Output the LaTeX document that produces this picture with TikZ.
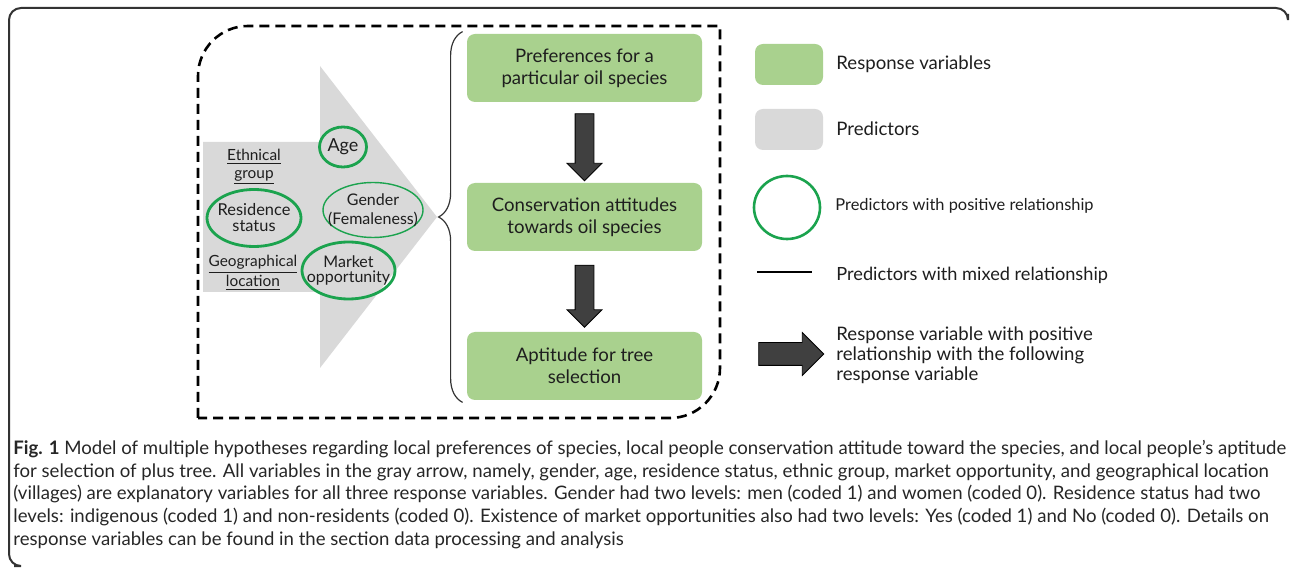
\documentclass[tikz,border=0pt]{standalone}
\usepackage{fontspec}
\setmainfont{Lato}
\usetikzlibrary{shapes.geometric,shapes.arrows,decorations.pathreplacing,calc,positioning}

\definecolor{respgreen}{HTML}{A9D18E}
\definecolor{predgray}{HTML}{D9D9D9}
\definecolor{posgreen}{HTML}{1BA34E}
\definecolor{darkfill}{HTML}{404040}
\definecolor{inkgray}{HTML}{1E1E1E}

\begin{document}
\begin{tikzpicture}[x=0.5pt,y=-0.5pt,node distance=74.5pt,text=inkgray,
  font=\fontsize{9.3}{11}\selectfont,
  resp node/.style={rectangle,rounded corners=4pt,fill=respgreen,minimum width=117.5pt,minimum height=34pt,align=center},
  pred node/.style={rectangle,rounded corners=4pt,fill=predgray},
  pos node/.style={ellipse,draw=posgreen,line width=1.4pt,inner sep=0pt},
  label node/.style={align=center,inner sep=0pt,font=\fontsize{7.7}{9}\selectfont},
  fat arrow/.style={single arrow,draw=black,fill=darkfill,line width=0.4pt,single arrow tip angle=90},
  key text/.style={anchor=west,inner sep=0pt,align=left}]
  \useasboundingbox (0,0) rectangle (1290,571);

  % figure frame
  \draw[line width=1pt,black!80,rounded corners=6pt] (1288,14) -- (1288,8) -- (9,8) -- (9,566) -- (14,566);

  % dashed model box
  \draw[line width=1.3pt,dash pattern=on 5pt off 3pt]
    (198,418) -- (198,76) .. controls (198,48.4) and (220.4,26) .. (248,26)
    -- (720,26) -- (720,368) .. controls (720,395.6) and (697.6,418) .. (670,418) -- cycle;

  % predictors
  \fill[predgray] (203,142) -- (320,142) -- (320,66) -- (437,217) -- (320,368) -- (320,292) -- (203,292) -- cycle;
  \node[pos node,minimum width=23.5pt,minimum height=20pt] (age) at (343,147) {};
  \node[pos node,line width=0.7pt,minimum width=50pt,minimum height=27.5pt] (gender) at (373,210) {};
  \node[pos node,minimum width=47pt,minimum height=28.5pt] (resid) at (254,218) {};
  \node[pos node,minimum width=46.5pt,minimum height=28.5pt] (market) at (348.5,270.5) {};
  \node[label node,font=\fontsize{9}{10}\selectfont] at (age) {Age};
  \node[label node,font=\fontsize{8}{9.5}\selectfont] at (gender) {Gender\\(Femaleness)};
  \node[label node,font=\fontsize{8.2}{8}\selectfont] at (resid) {Residence\\status};
  \node[label node,font=\fontsize{8}{7.6}\selectfont] at (market) {Market\\opportunity};
  \node[label node] (ethnic) at (254,167) {\underline{Ethnical}\\\underline{group}};
  \node[label node] (geo) at (253,273) {\underline{Geographical}\\\underline{location}};

  % response variables
  \node[resp node] (pref) at (584.5,68) {Preferences for a\\particular oil species};
  \node[resp node] (cons) [below of=pref] {Conservation attitudes\\towards oil species};
  \node[resp node] (sel) [below of=cons] {Aptitude for tree\\selection};
  \node[fat arrow,rotate=-90,minimum height=33.5pt,minimum width=17pt,inner sep=4.5pt,single arrow head extend=4pt]
    (step1) at ($(pref.south)!0.5!(cons.north)$) {};
  \node[fat arrow,rotate=-90,minimum height=31pt,minimum width=17pt,inner sep=4.5pt,single arrow head extend=4pt]
    (step2) at ($(cons.south)!0.5!(sel.north)$) {};
  \draw[line width=0.6pt,black!80,decorate,decoration={brace,amplitude=12pt}]
    ([xshift=-2pt,yshift=-1pt]sel.south west) -- ([xshift=-2pt,yshift=1pt]pref.north west);

  % key
  \node[resp node,minimum width=34pt,minimum height=20.5pt] (keyresp) at (789,64.5) {};
  \node[pred node,minimum width=34pt,minimum height=20.5pt] (keypred) at (789,129.5) {};
  \node[pos node,line width=1.3pt,minimum width=33pt,minimum height=31.5pt] (keypos) at (787,207.5) {};
  \coordinate (keymixa) at (757,272);
  \coordinate (keymixb) at (812,272);
  \draw[line width=1.2pt] (keymixa) -- (keymixb);
  \node[fat arrow,minimum height=32.5pt,minimum width=21pt,inner sep=5.5pt,single arrow head extend=5pt]
    (keyfat) at (785.5,354) {};
  \node[key text] (keyresp-txt) at (836,64) {Response variables};
  \node[key text] (keypred-txt) at (836,129) {Predictors};
  \node[key text,font=\fontsize{8.2}{10}\selectfont] (keypos-txt) at (835,206) {Predictors with positive relationship};
  \node[key text,font=\fontsize{9.1}{10}\selectfont] (keymix-txt) at (836,275) {Predictors with mixed relationship};
  \node[key text,font=\fontsize{9.3}{10}\selectfont] (keyfat-txt) at (836,355) {Response variable with positive\\relationship with the following\\response variable};

  % caption
  \node[anchor=north west,inner sep=0pt,align=left,text=black!85,font=\fontsize{9.3}{11.3}\selectfont] (caption) at (13,440)
    {\textbf{Fig. 1} Model of multiple hypotheses regarding local preferences of species, local people conservation attitude toward the species, and local people’s aptitude\\
     for selection of plus tree. All variables in the gray arrow, namely, gender, age, residence status, ethnic group, market opportunity, and geographical location\\
     (villages) are explanatory variables for all three response variables. Gender had two levels: men (coded 1) and women (coded 0). Residence status had two\\
     levels: indigenous (coded 1) and non-residents (coded 0). Existence of market opportunities also had two levels: Yes (coded 1) and No (coded 0). Details on\\
     response variables can be found in the section data processing and analysis};
\end{tikzpicture}
\end{document}
